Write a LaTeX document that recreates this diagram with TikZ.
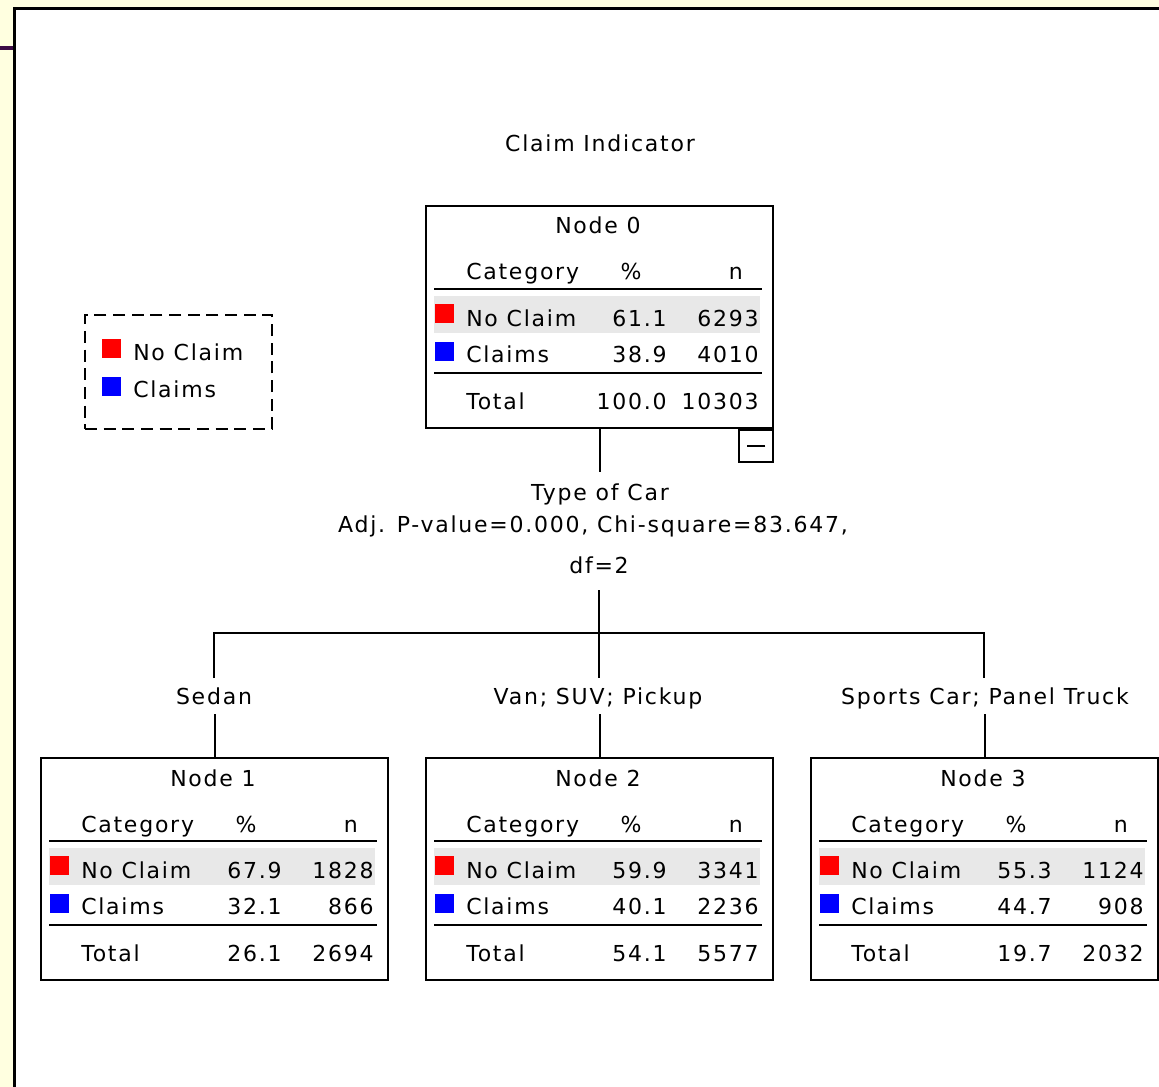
\documentclass[tikz,border=0pt]{standalone}
\usepackage{fontspec}
\setmainfont[LetterSpace=8]{DejaVu Sans}
\definecolor{bgyellow}{RGB}{255,255,224}
\definecolor{rowgray}{RGB}{232,232,232}
\definecolor{framepurple}{RGB}{60,12,70}
\definecolor{sqred}{RGB}{255,0,0}
\definecolor{sqblue}{RGB}{0,0,255}
\newcommand\fs{\fontsize{16.5}{19.8}\selectfont}
\tikzset{
  txt/.style={inner sep=0pt, font=\fs},
  boxst/.style={draw, line width=1.5pt, minimum width=260.25pt, minimum height=166.5pt, inner sep=0pt},
  rule/.style={line width=1.5pt},
  conn/.style={line width=1.5pt},
}
\newcommand\tbox[9]{%
\begin{scope}[shift={(#1,#2)}]
  \fill[rowgray] (9,91) rectangle (335,128);
  \node[boxst, anchor=north west] (n#3) at (0,0) {};
  \draw[rule] (9,84) -- (337,84);
  \draw[rule] (9,168) -- (337,168);
  \fill[sqred] (10,99) rectangle (29,118);
  \fill[sqblue] (10,137) rectangle (29,156);
  \node[txt, anchor=base] (n#3title) at (173,29) {Node #3};
  \node[txt, anchor=base west] (n#3cat) at (41,75) {Category};
  \node[txt, anchor=base] (n#3pc) at (206,75) {\%};
  \node[txt, anchor=base east] (n#3n) at (318,75) {n};
  \node[txt, anchor=base west] (n#3r1) at (41,121) {No Claim};
  \node[txt, anchor=base east] (n#3p1) at (242,121) {#4};
  \node[txt, anchor=base east] (n#3c1) at (334,121) {#5};
  \node[txt, anchor=base west] (n#3r2) at (41,157) {Claims};
  \node[txt, anchor=base east] (n#3p2) at (242,157) {#6};
  \node[txt, anchor=base east] (n#3c2) at (334,157) {#7};
  \node[txt, anchor=base west] (n#3r3) at (41,204) {Total};
  \node[txt, anchor=base east] (n#3p3) at (242,204) {#8};
  \node[txt, anchor=base east] (n#3c3) at (334,204) {#9};
\end{scope}}
\begin{document}
\begin{tikzpicture}[x=0.75pt,y=-0.75pt]
\useasboundingbox (0,0) rectangle (1159,1087);
\fill[bgyellow] (0,0) rectangle (1159,1087);
\fill[white] (14.5,8.5) rectangle (1159,1087);
\draw[line width=2.25pt] (14.5,1087) -- (14.5,8.5) -- (1159,8.5);
\draw[framepurple, line width=3pt] (0,48.5) -- (13.3,48.5);

\node[txt, anchor=base] (title) at (600,152) {Claim Indicator};

% legend
\node[draw, line width=1.5pt, dash pattern=on 9pt off 5pt, minimum width=140.25pt, minimum height=85.5pt, anchor=north west, inner sep=0pt] (legend) at (84,314) {};
\fill[sqred] (102,339) rectangle (121,358);
\fill[sqblue] (102,377) rectangle (121,396);
\node[txt, anchor=base west] (legno) at (133,360) {No Claim};
\node[txt, anchor=base west] (legcl) at (133,397) {Claims};

\tbox{425}{205}{0}{61.1}{6293}{38.9}{4010}{100.0}{10303}
\tbox{40}{757}{1}{67.9}{1828}{32.1}{866}{26.1}{2694}
\tbox{425}{757}{2}{59.9}{3341}{40.1}{2236}{54.1}{5577}
\tbox{810}{757}{3}{55.3}{1124}{44.7}{908}{19.7}{2032}

% collapse box
\node[draw, line width=1.5pt, minimum width=25.5pt, minimum height=24pt, inner sep=0pt, anchor=north east] (m0) at (n0.south east) {};
\draw[line width=1.5pt] ([xshift=-6.5pt]m0.east) -- ([xshift=6.5pt]m0.west);

% split label
\node[txt, anchor=base] (split1) at (600,500) {Type of Car};
\node[txt, anchor=base] (split2) at (593,532) {Adj. P-value=0.000, Chi-square=83.647,};
\node[txt, anchor=base] (split3) at (599,573) {df=2};

% branch labels
\node[txt, anchor=base] (b1) at (214,704) {Sedan};
\node[txt, anchor=base] (b2) at (598,704) {Van; SUV; Pickup};
\node[txt, anchor=base] (b3) at (985,704) {Sports Car; Panel Truck};

\coordinate (c0) at (599,472);
\coordinate (s0) at (599,590);
\coordinate (hm) at (599,633);
\coordinate (t1) at (214,678);
\coordinate (t2) at (599,678);
\coordinate (t3) at (984,678);

\draw[conn] (n0.south) -- (n0.south |- c0);
\draw[conn] (s0) -- (t2);
\draw[conn] (t1) -- (t1 |- hm) -- (t3 |- hm) -- (t3);
\draw[conn] (n1.north) -- ++(0,-43);
\draw[conn] (n2.north) -- ++(0,-43);
\draw[conn] (n3.north) -- ++(0,-43);
\end{tikzpicture}
\end{document}
